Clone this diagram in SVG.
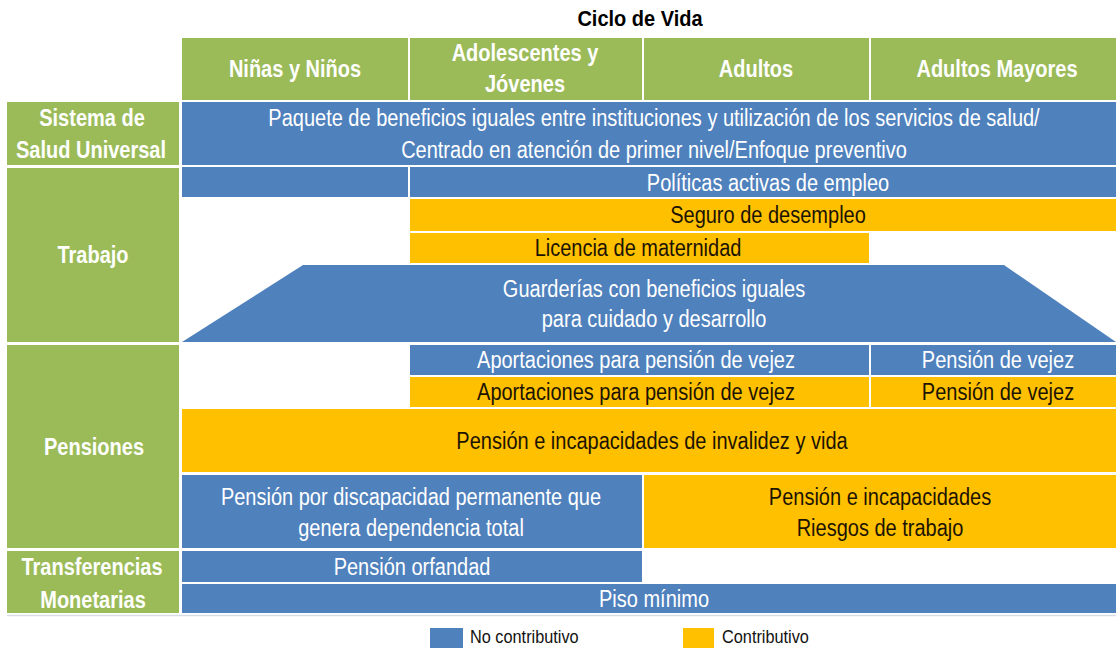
<svg xmlns="http://www.w3.org/2000/svg" width="1116" height="648" viewBox="0 0 1116 648">
<style>
.g{fill:#9BBB59}
.b{fill:#4F81BD}
.o{fill:#FFC000}
text{font-family:"Liberation Sans",Arial,sans-serif;text-anchor:middle}
.h{font-size:20px;font-weight:bold;fill:#ffffff}
.tw{font-size:20px;fill:#ffffff}
.tk{font-size:20px;fill:#1c1400}
.lg{font-size:16.3px;fill:#111111;text-anchor:start}
.ti{font-size:20px;font-weight:bold;fill:#000000}
</style>
<rect width="1116" height="648" fill="#ffffff"/>
<text class="ti" transform="translate(640,26) scale(1,1.08)">Ciclo de Vida</text>

<g id="header">
<rect class="g" x="182" y="38" width="226" height="62"/>
<rect class="g" x="410" y="38" width="232" height="62"/>
<rect class="g" x="644" y="38" width="225" height="62"/>
<rect class="g" x="871" y="38" width="245" height="62"/>
<text class="h" transform="translate(295,77) scale(1,1.15)">Niñas y Niños</text>
<text class="h" transform="translate(525,61) scale(1,1.15)">Adolescentes y</text>
<text class="h" transform="translate(525,92) scale(1,1.15)">Jóvenes</text>
<text class="h" transform="translate(756,77) scale(1,1.15)">Adultos</text>
<text class="h" transform="translate(997,77) scale(1,1.15)">Adultos Mayores</text>
</g>

<g id="labels">
<g id="lbl-salud">
<rect class="g" x="7" y="102" width="172" height="63"/>
<text class="h" transform="translate(92,126) scale(1,1.15)">Sistema de</text>
<text class="h" transform="translate(91,158) scale(1,1.15)">Salud Universal</text>
</g>
<g id="lbl-trabajo">
<rect class="g" x="7" y="168" width="172" height="174"/>
<text class="h" transform="translate(93,263) scale(1,1.15)">Trabajo</text>
</g>
<g id="lbl-pensiones">
<rect class="g" x="7" y="345" width="172" height="203"/>
<text class="h" transform="translate(94,455) scale(1,1.15)">Pensiones</text>
</g>
<g id="lbl-transferencias">
<rect class="g" x="7" y="551" width="172" height="62"/>
<text class="h" transform="translate(92,575) scale(1,1.15)">Transferencias</text>
<text class="h" transform="translate(93,608) scale(1,1.15)">Monetarias</text>
</g>
</g>

<g id="salud">
<rect class="b" x="182" y="102" width="934" height="63"/>
<text class="tw" transform="translate(654,126) scale(1,1.15)">Paquete de beneficios iguales entre instituciones y utilización de los servicios de salud/</text>
<text class="tw" transform="translate(654,158) scale(1,1.15)">Centrado en atención de primer nivel/Enfoque preventivo</text>
</g>

<g id="politicas">
<rect class="b" x="182" y="167" width="226" height="30"/>
<rect class="b" x="410" y="167" width="706" height="30"/>
<text class="tw" transform="translate(768,191) scale(1,1.15)">Políticas activas de empleo</text>
</g>
<g id="seguro">
<rect class="o" x="410" y="199" width="706" height="32"/>
<text class="tk" transform="translate(768,223) scale(1,1.15)">Seguro de desempleo</text>
</g>
<g id="licencia">
<rect class="o" x="410" y="233" width="459" height="30"/>
<text class="tk" transform="translate(638,256) scale(1,1.15)">Licencia de maternidad</text>
</g>
<g id="guarderias">
<polygon class="b" points="303,265 1004,265 1116,342 182,342"/>
<text class="tw" transform="translate(654,297) scale(1,1.15)">Guarderías con beneficios iguales</text>
<text class="tw" transform="translate(654,327) scale(1,1.15)">para cuidado y desarrollo</text>
</g>

<g id="aportaciones-nc">
<rect class="b" x="410" y="345" width="459" height="30"/>
<text class="tw" transform="translate(636,368) scale(1,1.15)">Aportaciones para pensión de vejez</text>
</g>
<g id="vejez-nc">
<rect class="b" x="871" y="345" width="245" height="30"/>
<text class="tw" transform="translate(998,368) scale(1,1.15)">Pensión de vejez</text>
</g>
<g id="aportaciones-c">
<rect class="o" x="410" y="377" width="459" height="30"/>
<text class="tk" transform="translate(636,400) scale(1,1.15)">Aportaciones para pensión de vejez</text>
</g>
<g id="vejez-c">
<rect class="o" x="871" y="377" width="245" height="30"/>
<text class="tk" transform="translate(998,400) scale(1,1.15)">Pensión de vejez</text>
</g>
<g id="invalidez">
<rect class="o" x="182" y="409" width="934" height="63"/>
<text class="tk" transform="translate(652,449) scale(1,1.15)">Pensión e incapacidades de invalidez y vida</text>
</g>
<g id="discapacidad">
<rect class="b" x="182" y="475" width="460" height="73"/>
<text class="tw" transform="translate(411,505) scale(1,1.15)">Pensión por discapacidad permanente que</text>
<text class="tw" transform="translate(411,536) scale(1,1.15)">genera dependencia total</text>
</g>
<g id="riesgos">
<rect class="o" x="644" y="475" width="472" height="73"/>
<text class="tk" transform="translate(880,505) scale(1,1.15)">Pensión e incapacidades</text>
<text class="tk" transform="translate(880,536) scale(1,1.15)">Riesgos de trabajo</text>
</g>
<g id="orfandad">
<rect class="b" x="182" y="551" width="460" height="31"/>
<text class="tw" transform="translate(412,575) scale(1,1.15)">Pensión orfandad</text>
</g>
<g id="piso">
<rect class="b" x="182" y="584" width="934" height="29"/>
<text class="tw" transform="translate(654,607) scale(1,1.15)">Piso mínimo</text>
</g>
<g id="connectors">
<line x1="7" y1="615.5" x2="1116" y2="615.5" stroke="#d6dde6" stroke-width="1.5"/>
</g>

<g id="legend">
<rect class="b" x="430" y="628" width="33" height="20"/>
<text class="lg" transform="translate(470,643) scale(1,1.1)">No contributivo</text>
<rect class="o" x="683" y="628" width="31" height="20"/>
<text class="lg" transform="translate(722,643) scale(1,1.1)">Contributivo</text>
</g>
</svg>
